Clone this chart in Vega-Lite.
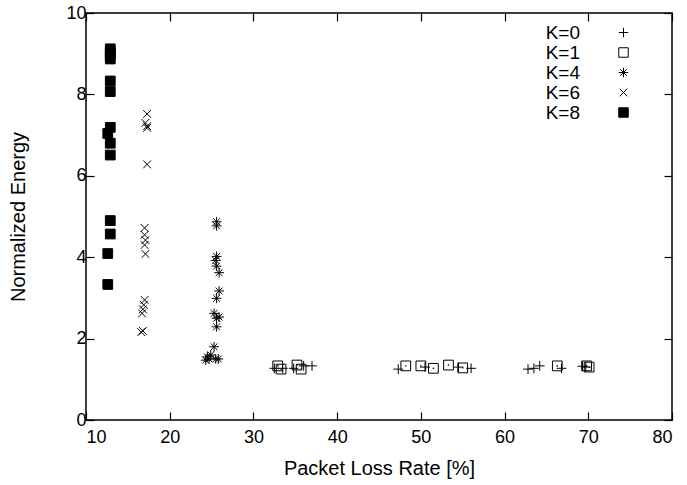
{
  "$schema": "https://vega.github.io/schema/vega-lite/v6.json",
  "autosize": {"type": "none"},
  "padding": {"left": 86, "top": 13, "right": 15, "bottom": 65},
  "width": 586,
  "height": 407,
  "background": "white",
  "config": {
    "font": "Liberation Sans",
    "view": {"stroke": "black", "strokeWidth": 1.5},
    "axis": {
      "grid": false,
      "domain": false,
      "tickColor": "black",
      "tickWidth": 1.2,
      "tickSize": -8,
      "labelFont": "Liberation Sans",
      "labelFontSize": 18,
      "labelColor": "black",
      "titleFont": "Liberation Sans",
      "titleFontSize": 20,
      "titleFontWeight": "normal",
      "titleColor": "black"
    },
    "legend": {
      "labelFont": "Liberation Sans",
      "labelFontSize": 19,
      "labelColor": "black",
      "rowPadding": -1,
      "padding": 0
    }
  },
  "data": {
    "values": [
      {"x": 12.9, "y": 9.12, "K": "K=8"}, {"x": 12.9, "y": 9.04, "K": "K=8"}, {"x": 12.9, "y": 8.96, "K": "K=8"}, {"x": 12.9, "y": 8.87, "K": "K=8"},
      {"x": 12.9, "y": 8.33, "K": "K=8"}, {"x": 12.9, "y": 8.07, "K": "K=8"}, {"x": 12.9, "y": 7.19, "K": "K=8"}, {"x": 12.6, "y": 7.04, "K": "K=8"},
      {"x": 12.9, "y": 6.8, "K": "K=8"}, {"x": 12.9, "y": 6.51, "K": "K=8"}, {"x": 12.9, "y": 4.9, "K": "K=8"}, {"x": 12.9, "y": 4.57, "K": "K=8"},
      {"x": 12.6, "y": 4.09, "K": "K=8"}, {"x": 12.6, "y": 3.33, "K": "K=8"},
      {"x": 17.3, "y": 7.52, "K": "K=6"}, {"x": 17.1, "y": 7.3, "K": "K=6"}, {"x": 17.3, "y": 7.22, "K": "K=6"}, {"x": 17.3, "y": 7.18, "K": "K=6"},
      {"x": 17.3, "y": 6.28, "K": "K=6"}, {"x": 17.0, "y": 4.72, "K": "K=6"}, {"x": 17.0, "y": 4.55, "K": "K=6"}, {"x": 17.1, "y": 4.42, "K": "K=6"},
      {"x": 17.0, "y": 4.3, "K": "K=6"}, {"x": 17.1, "y": 4.08, "K": "K=6"}, {"x": 17.0, "y": 2.95, "K": "K=6"}, {"x": 16.9, "y": 2.83, "K": "K=6"},
      {"x": 16.8, "y": 2.72, "K": "K=6"}, {"x": 16.7, "y": 2.62, "K": "K=6"}, {"x": 16.8, "y": 2.19, "K": "K=6"}, {"x": 16.6, "y": 2.16, "K": "K=6"},
      {"x": 25.6, "y": 4.87, "K": "K=4"}, {"x": 25.6, "y": 4.77, "K": "K=4"}, {"x": 25.6, "y": 4.02, "K": "K=4"}, {"x": 25.5, "y": 3.92, "K": "K=4"},
      {"x": 25.6, "y": 3.78, "K": "K=4"}, {"x": 25.9, "y": 3.62, "K": "K=4"}, {"x": 25.9, "y": 3.17, "K": "K=4"}, {"x": 25.6, "y": 2.99, "K": "K=4"},
      {"x": 25.3, "y": 2.62, "K": "K=4"}, {"x": 25.9, "y": 2.53, "K": "K=4"}, {"x": 25.6, "y": 2.5, "K": "K=4"}, {"x": 25.6, "y": 2.29, "K": "K=4"},
      {"x": 25.3, "y": 1.8, "K": "K=4"}, {"x": 24.9, "y": 1.6, "K": "K=4"}, {"x": 24.5, "y": 1.55, "K": "K=4"}, {"x": 24.3, "y": 1.47, "K": "K=4"},
      {"x": 25.5, "y": 1.5, "K": "K=4"}, {"x": 25.8, "y": 1.5, "K": "K=4"}, {"x": 24.7, "y": 1.5, "K": "K=4"},
      {"x": 32.5, "y": 1.27, "K": "K=0"}, {"x": 33.5, "y": 1.27, "K": "K=0"}, {"x": 34.8, "y": 1.27, "K": "K=0"}, {"x": 36.0, "y": 1.33, "K": "K=0"},
      {"x": 37.0, "y": 1.33, "K": "K=0"}, {"x": 47.3, "y": 1.25, "K": "K=0"}, {"x": 50.5, "y": 1.3, "K": "K=0"}, {"x": 54.5, "y": 1.3, "K": "K=0"},
      {"x": 56.0, "y": 1.27, "K": "K=0"}, {"x": 62.8, "y": 1.25, "K": "K=0"}, {"x": 63.5, "y": 1.27, "K": "K=0"}, {"x": 64.2, "y": 1.33, "K": "K=0"},
      {"x": 66.8, "y": 1.27, "K": "K=0"}, {"x": 69.3, "y": 1.32, "K": "K=0"}, {"x": 69.7, "y": 1.3, "K": "K=0"},
      {"x": 32.9, "y": 1.33, "K": "K=1"}, {"x": 33.3, "y": 1.25, "K": "K=1"}, {"x": 35.2, "y": 1.35, "K": "K=1"}, {"x": 35.7, "y": 1.25, "K": "K=1"},
      {"x": 48.2, "y": 1.33, "K": "K=1"}, {"x": 50.0, "y": 1.33, "K": "K=1"}, {"x": 51.5, "y": 1.27, "K": "K=1"}, {"x": 53.3, "y": 1.35, "K": "K=1"},
      {"x": 55.0, "y": 1.28, "K": "K=1"}, {"x": 66.3, "y": 1.33, "K": "K=1"}, {"x": 69.8, "y": 1.33, "K": "K=1"}, {"x": 70.1, "y": 1.3, "K": "K=1"}
    ]
  },
  "resolve": {"axis": {"x": "independent", "y": "independent"}},
  "layer": [
    {
      "mark": {"type": "point", "filled": true, "strokeWidth": 1, "opacity": 1, "size": 95},
      "encoding": {
        "x": {"field": "x", "type": "quantitative", "scale": {"domain": [10, 80], "nice": false}, "axis": {"values": [10, 20, 30, 40, 50, 60, 70, 80], "title": "Packet Loss Rate [%]", "labelPadding": 16, "titlePadding": 12, "labelFontSize": 18}},
        "y": {"field": "y", "type": "quantitative", "scale": {"domain": [0, 10], "nice": false}, "axis": {"values": [0, 2, 4, 6, 8, 10], "title": "Normalized Energy", "labelPadding": 8, "titlePadding": 37, "labelFontSize": 18}},
        "shape": {
          "field": "K", "type": "nominal",
          "scale": {"domain": ["K=0", "K=1", "K=4", "K=6", "K=8"], "range": ["M-1,0L1,0M0,-1L0,1", "square", "M-1,0L1,0M0,-1L0,1M-0.7,-0.7L0.7,0.7M-0.7,0.7L0.7,-0.7", "M-0.8,-0.8L0.8,0.8M-0.8,0.8L0.8,-0.8", "square"]},
          "legend": {"title": null, "orient": "none", "legendX": 528, "legendY": 10, "labelAlign": "right", "labelOffset": -53, "symbolStrokeWidth": 1, "symbolSize": 90}
        },
        "fill": {
          "field": "K", "type": "nominal",
          "scale": {"domain": ["K=0", "K=1", "K=4", "K=6", "K=8"], "range": ["transparent", "transparent", "transparent", "transparent", "black"]},
          "legend": {"title": null, "orient": "none", "legendX": 528, "legendY": 10, "labelAlign": "right", "labelOffset": -53, "symbolStrokeWidth": 1, "symbolSize": 90}
        },
        "stroke": {
          "field": "K", "type": "nominal",
          "scale": {"domain": ["K=0", "K=1", "K=4", "K=6", "K=8"], "range": ["black", "black", "black", "black", "black"]},
          "legend": {"title": null, "orient": "none", "legendX": 528, "legendY": 10, "labelAlign": "right", "labelOffset": -53, "symbolStrokeWidth": 1, "symbolSize": 90}
        }
      }
    },
    {
      "transform": [{"filter": "datum.K === 'K=1'"}],
      "mark": {"type": "point", "filled": true, "shape": "square", "size": 2, "color": "black", "opacity": 1},
      "encoding": {
        "x": {"field": "x", "type": "quantitative", "axis": {"orient": "top", "values": [10, 20, 30, 40, 50, 60, 70, 80], "labels": false, "title": null}},
        "y": {"field": "y", "type": "quantitative", "axis": {"orient": "right", "values": [0, 2, 4, 6, 8, 10], "labels": false, "title": null}}
      }
    }
  ]
}
